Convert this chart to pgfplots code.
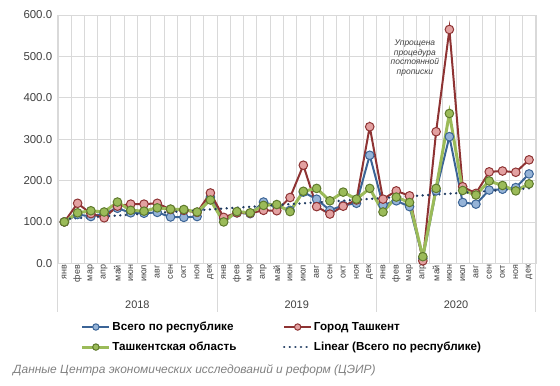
\documentclass[border=0pt]{standalone}
\usepackage{pgfplots}
\usepackage{pgfplotstable}
\pgfplotsset{compat=1.18}
\usepackage{fontspec}
\setmainfont{Liberation Sans}
\definecolor{bline}{HTML}{3B6496}
\definecolor{bfill}{HTML}{95B3D7}
\definecolor{rline}{HTML}{8E3333}
\definecolor{rfill}{HTML}{E3A1A1}
\definecolor{gline}{HTML}{9BBB59}
\definecolor{gfill}{HTML}{9BBB59}
\definecolor{gedge}{HTML}{5E7A2C}
\definecolor{trend}{HTML}{1F3A60}
\definecolor{gridc}{HTML}{D9D9D9}
\definecolor{txt}{HTML}{404040}
\definecolor{src}{HTML}{808080}
\pgfplotstableread{
x b r g
0 100 100 100
1 118 145 122
2 113 120 127
3 120 110 124
4 133 138 148
5 122 143 128
6 121 143 126
7 123 145 134
8 112 130 131
9 111 128 130
10 113 123 124
11 160 170 153
12 108 111 100
13 122 122 125
14 120 121 122
15 148 128 140
16 138 127 142
17 128 159 125
18 172 237 174
19 155 137 181
20 128 119 151
21 140 138 172
22 145 153 155
23 261 330 181
24 141 155 124
25 151 175 160
26 137 163 147
27 12 6 16
28 175 318 181
29 306 565 362
30 147 185 176
31 143 169 165
32 177 221 199
33 179 223 188
34 183 220 175
35 216 250 192
}\datatable
\begin{document}
\begin{tikzpicture}
\useasboundingbox (0bp,0bp) rectangle (560bp,386bp);
\begin{axis}[
  at={(57.7bp,122.7bp)}, anchor=south west,
  scale only axis, width=478bp, height=248.3bp,
  xmin=-0.5, xmax=35.5, ymin=0, ymax=600,
  clip=false,
  axis line style={gridc},
  xtick={0,...,35},
  xticklabels={янв,фев,мар,апр,май,июн,июл,авг,сен,окт,ноя,дек,янв,фев,мар,апр,май,июн,июл,авг,сен,окт,ноя,дек,янв,фев,мар,апр,май,июн,июл,авг,сен,окт,ноя,дек},
  xticklabel style={rotate=90, anchor=east, font=\fontsize{9}{9}\selectfont, text=txt, inner sep=1.5bp},
  major tick length=0, minor tick length=0,
  minor xtick={-0.5,0.5,...,35.5},
  xminorgrids, ymajorgrids,
  minor grid style={gridc, line width=0.8bp},
  major grid style={gridc, line width=0.8bp},
  ytick={0,100,...,600},
  /pgf/number format/assume math mode=true,
  yticklabel style={/pgf/number format/fixed, /pgf/number format/fixed zerofill, /pgf/number format/precision=1, font=\fontsize{11.5}{11.5}\selectfont, text=txt, xshift=-2bp},
  legend columns=2,
  legend cell align=left,
  legend image code/.code={\draw[mark repeat=2, mark phase=2, #1] plot coordinates {(0bp,0bp) (13.5bp,0bp) (27bp,0bp)};},
  every legend image post/.append style={mark size=3.2bp},
  legend style={at={(0,0)}, anchor=north west, xshift=20bp, yshift=-55bp, draw=none, fill=none,
    font=\bfseries\fontsize{11.7}{11.7}\selectfont, text=black, row sep=7bp, nodes={inner sep=1.5bp}},
]
\addplot[bline, line width=2bp, mark=*, mark size=4.3bp, mark options={fill=bfill, draw=bline, line width=1bp}] table[x=x,y=b] {\datatable};
\addlegendentry{\makebox[169bp][l]{Всего по республике}}
\addplot[rline, line width=2bp, mark=*, mark size=4.3bp, mark options={fill=rfill, draw=rline, line width=1bp}] table[x=x,y=r] {\datatable};
\addlegendentry{Город Ташкент}
\addplot[gline, line width=3bp, mark=*, mark size=4.3bp, mark options={fill=gfill, draw=gedge, line width=1bp}] table[x=x,y=g] {\datatable};
\addlegendentry{\makebox[169bp][l]{Ташкентская область}}
\addplot[trend, line width=2.6bp, line cap=round, dash pattern=on 0.01bp off 5.6bp] coordinates {(0,107) (35,181)};
\addlegendentry{Linear (Всего по республике)}
% year separators
\draw[gridc, line width=0.8bp] (axis cs:-0.5,0) -- ++(0bp,-48.4bp);
\draw[gridc, line width=0.8bp] (axis cs:11.5,0) -- ++(0bp,-48.4bp);
\draw[gridc, line width=0.8bp] (axis cs:23.5,0) -- ++(0bp,-48.4bp);
\draw[gridc, line width=0.8bp] (axis cs:35.5,0) -- ++(0bp,-48.4bp);
\node[font=\fontsize{11}{11}\selectfont, text=txt] at ([yshift=-41.7bp]axis cs:5.5,0) {2018};
\node[font=\fontsize{11}{11}\selectfont, text=txt] at ([yshift=-41.7bp]axis cs:17.5,0) {2019};
\node[font=\fontsize{11}{11}\selectfont, text=txt] at ([yshift=-41.7bp]axis cs:29.5,0) {2020};
\node[font=\itshape\fontsize{8.5}{9.8}\selectfont, text=txt, align=center] at (axis cs:26.4,496) {Упрощена\\процедура\\постоянной\\прописки};
\end{axis}
\node[anchor=west, font=\itshape\fontsize{12}{12}\selectfont, text=src, inner sep=0] at (13bp,16bp) {Данные Центра экономических исследований и реформ (ЦЭИР)};
\end{tikzpicture}
\end{document}
